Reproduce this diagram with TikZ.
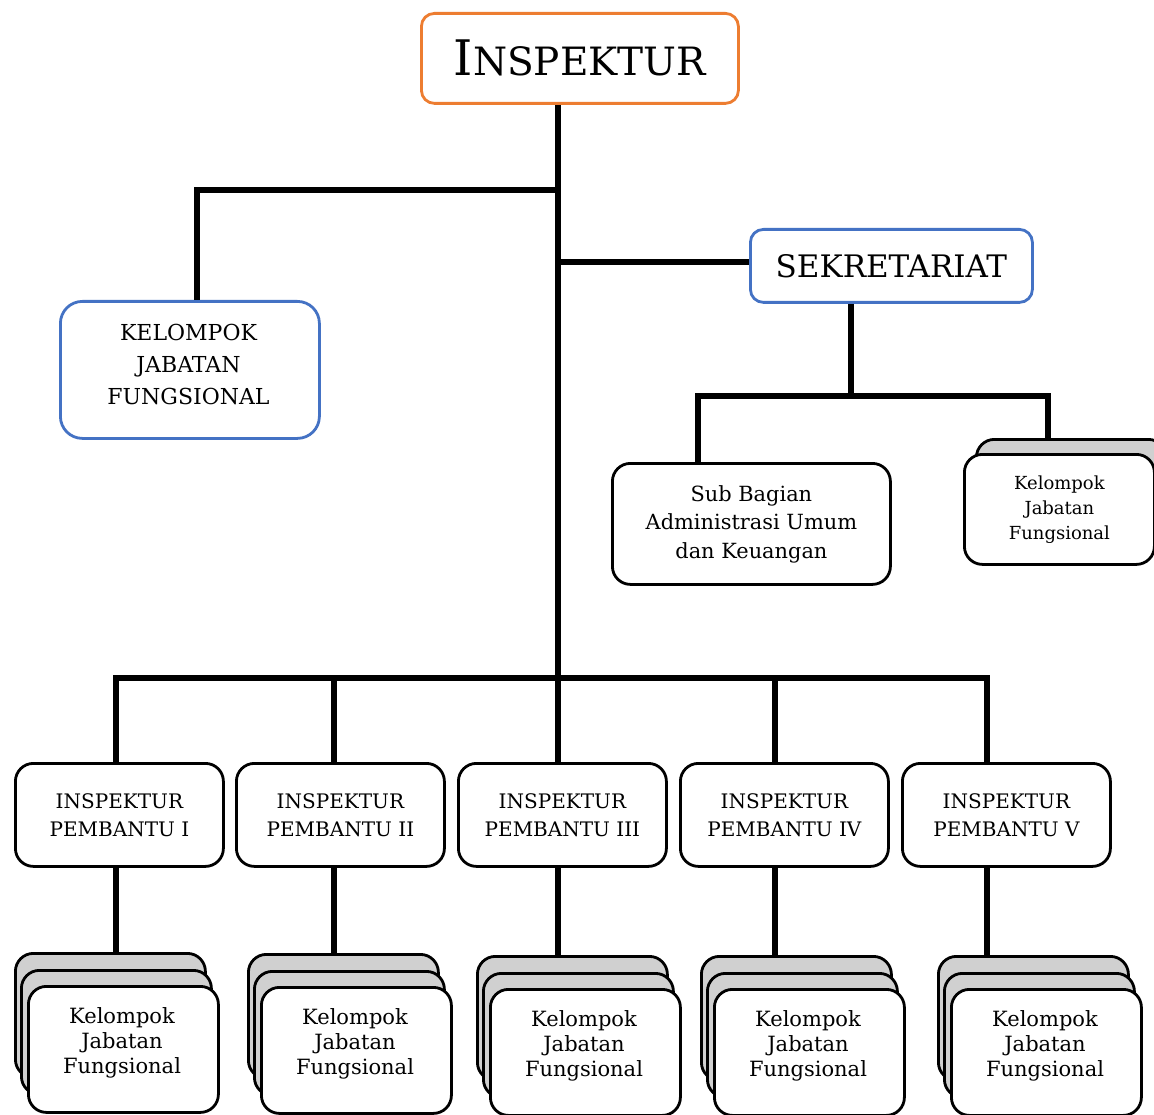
\documentclass[tikz,border=0pt]{standalone}
\usepackage{fontspec}
\setmainfont{DejaVu Serif}
\definecolor{orangeb}{HTML}{ED7D31}
\definecolor{blueb}{HTML}{4472C4}
\definecolor{stackgrey}{HTML}{D0D0D0}
\tikzset{
  box/.style={draw=black, line width=2.8pt, rounded corners=18pt, fill=white, align=center, inner sep=0pt, anchor=north west},
  conn/.style={line width=5.5pt, draw=black},
  backbox/.style={box, fill=stackgrey, minimum width=190pt, minimum height=124pt},
  frontbox/.style={box, minimum width=190pt, minimum height=126pt},
  stacktext/.style={align=center, inner sep=0pt, font=\fontsize{21}{25}\selectfont},
}
\newcommand\kjfstack[4]{%
  \node[backbox] (#1b) at (#2,#3) {};
  \node[backbox] (#1m) at (#2+6,#3+17) {};
  \node[frontbox] (#1f) at (#2+13,#3+33) {};
  \node[stacktext] (#1t) at (#2+108,#3+91) {#4};
}
\begin{document}
\begin{tikzpicture}[x=1pt,y=-1pt]
\useasboundingbox (0,0) rectangle (1154,1115);
\fill[white] (0,0) rectangle (1154,1115);

% top
\node[box, draw=orangeb, rounded corners=13pt, minimum width=317pt, minimum height=90pt] (top) at (420,12)
  {\fontsize{49}{49}\selectfont I\fontsize{39}{39}\selectfont NSPEKTUR};

% kelompok jabatan fungsional (left)
\node[box, draw=blueb, rounded corners=22pt, minimum width=259pt, minimum height=137pt] (kjf) at (59,300) {};
\node[align=center, inner sep=0pt, font=\fontsize{22}{32}\selectfont] (kjft) at (188.5,364.5) {KELOMPOK\\JABATAN\\FUNGSIONAL};

% sekretariat
\node[box, draw=blueb, rounded corners=13pt, minimum width=282pt, minimum height=73pt,
  font=\fontsize{31}{31}\selectfont] (sek) at (749,228) {SEKRETARIAT};

% sub bagian
\node[box, minimum width=278pt, minimum height=121pt, font=\fontsize{20.9}{28.5}\selectfont]
  (sub) at (611,462) {Sub Bagian\\Administrasi Umum\\dan Keuangan};

% right stack
\node[box, fill=stackgrey, minimum width=190pt, minimum height=110pt] (rsb) at (975,438) {};
\node[box, minimum width=190pt, minimum height=110pt, font=\fontsize{18}{25}\selectfont]
  (rsf) at (963,453) {Kelompok\\Jabatan\\Fungsional};

% pembantu boxes
\foreach \n/\x/\t in {p1/14/I, p2/235/II, p3/457/III, p4/679/IV, p5/901/V}{
  \node[box, minimum width=208pt, minimum height=103pt, font=\fontsize{20}{28}\selectfont]
    (\n) at (\x,762) {INSPEKTUR\\PEMBANTU \t};
}

% stacks
\kjfstack{s1}{14}{952}{Kelompok\\Jabatan\\Fungsional}
\kjfstack{s2}{247}{953}{Kelompok\\Jabatan\\Fungsional}
\kjfstack{s3}{476}{955}{Kelompok\\Jabatan\\Fungsional}
\kjfstack{s4}{700}{955}{Kelompok\\Jabatan\\Fungsional}
\kjfstack{s5}{937}{955}{Kelompok\\Jabatan\\Fungsional}

% coordinates
\coordinate (jL) at (558,190);
\coordinate (kL) at (197,190);
\coordinate (jS) at (558,262);
\coordinate (sd) at (851,396);
\coordinate (sa) at (698,396);
\coordinate (sb) at (1048,396);
\coordinate (b1) at (116,678);
\coordinate (b2) at (334,678);
\coordinate (b3) at (558,678);
\coordinate (b4) at (775,678);
\coordinate (b5) at (987,678);

% connectors
\draw[conn] (b3 |- top.south) -- (b3);
\draw[conn] (jL) -- (kL) -- (kL |- kjf.north);
\draw[conn] (jS) -- (jS -| sek.west);
\draw[conn] (sd |- sek.south) -- (sd);
\draw[conn] (sa |- sub.north) -- (sa) -- (sb) -- (sb |- rsb.north);
\draw[conn] (b1 |- p1.north) -- (b1) -- (b5) -- (b5 |- p5.north);
\draw[conn] (b2) -- (b2 |- p2.north);
\draw[conn] (b3) -- (b3 |- p3.north);
\draw[conn] (b4) -- (b4 |- p4.north);
\draw[conn] (b1 |- p1.south) -- (b1 |- s1b.north);
\draw[conn] (b2 |- p2.south) -- (b2 |- s2b.north);
\draw[conn] (b3 |- p3.south) -- (b3 |- s3b.north);
\draw[conn] (b4 |- p4.south) -- (b4 |- s4b.north);
\draw[conn] (b5 |- p5.south) -- (b5 |- s5b.north);
\end{tikzpicture}
\end{document}
